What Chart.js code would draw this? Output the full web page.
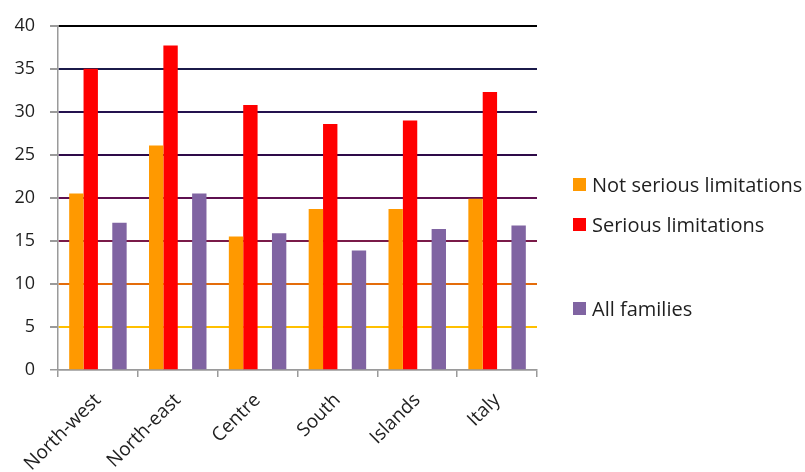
<!DOCTYPE html>
<html>
<head>
<meta charset="utf-8">
<script src="https://cdn.jsdelivr.net/npm/chart.js@4"></script>
<style>
  html, body { margin: 0; padding: 0; background: #fff; }
  #wrap { position: relative; width: 805px; height: 472px; overflow: hidden; }
  #legend { position: absolute; left: 573px; top: 0; font-family: "Open Sans", sans-serif; font-size: 20px; color: #1f1f1f; }
  .item { position: absolute; left: 0; white-space: nowrap; display: flex; align-items: center; }
  .box { width: 13px; height: 13px; margin-right: 6px; }
</style>
</head>
<body>
<div id="wrap">
  <canvas id="c" width="805" height="472"></canvas>
  <div id="legend"></div>
</div>
<script>
const regions = ["North-west", "North-east", "Centre", "South", "Islands", "Italy"];
const notSerious = [20.5, 26.1, 15.5, 18.7, 18.7, 19.9];
const serious = [35.0, 37.7, 30.8, 28.6, 29.0, 32.3];
const allFamilies = [17.1, 20.5, 15.9, 13.9, 16.4, 16.8];
const blankSlot = [null, null, null, null, null, null];
const yTicks = [0, 5, 10, 15, 20, 25, 30, 35, 40];

// One colour per horizontal grid line, warm at the bottom, dark at the top
const gridColours = {
  0: '#9a9a9a', 5: '#ffc000', 10: '#e46c0a', 15: '#7a1a48', 20: '#5e1050',
  25: '#2e0a48', 30: '#24124f', 35: '#1b1a4a', 40: '#000000'
};

const series = [
  { label: 'Not serious limitations', data: notSerious, color: '#ff9900' },
  { label: 'Serious limitations', data: serious, color: '#ff0000' },
  { label: '', data: blankSlot, color: 'rgba(0,0,0,0)' },
  { label: 'All families', data: allFamilies, color: '#8064a2' }
];

const yFont = { family: '"Open Sans", sans-serif', size: 18 };
const xFont = { family: '"Open Sans", sans-serif', size: 19 };

new Chart(document.getElementById('c'), {
  type: 'bar',
  data: {
    labels: regions,
    datasets: series.map(s => ({
      label: s.label,
      data: s.data,
      backgroundColor: s.color,
      borderWidth: 0,
      categoryPercentage: 0.72,
      barPercentage: 1.0
    }))
  },
  options: {
    responsive: false,
    animation: false,
    layout: { padding: { top: 22, right: 268, left: 0, bottom: 0 } },
    plugins: { legend: { display: false }, tooltip: { enabled: false } },
    scales: {
      x: {
        grid: {
          offset: true,
          drawOnChartArea: false,
          tickLength: 7,
          tickColor: '#9a9a9a',
          lineWidth: 1.5
        },
        border: { color: '#9a9a9a', width: 1.5 },
        ticks: {
          font: xFont,
          color: '#1f1f1f',
          maxRotation: 45,
          minRotation: 45,
          padding: 12
        },
        afterFit: s => { s.height = 102; }
      },
      y: {
        min: 0,
        max: 40,
        afterBuildTicks: s => { s.ticks = yTicks.map(v => ({ value: v })); },
        grid: {
          color: ctx => gridColours[ctx.tick.value] || '#999',
          lineWidth: ctx => ctx.tick.value === 0 ? 1.5 : 2,
          tickColor: '#9a9a9a',
          tickLength: 8
        },
        border: { color: '#9a9a9a', width: 1.5 },
        ticks: { font: yFont, color: '#1f1f1f', padding: 15 },
        afterFit: s => { s.width = 58; }
      }
    }
  }
});

// Legend column on the right; the empty third slot keeps its spacing
const legendRows = [184, 224, 266, 308];
const legend = document.getElementById('legend');
series.forEach((s, i) => {
  if (!s.label) return;
  const row = document.createElement('div');
  row.className = 'item';
  row.style.top = (legendRows[i] - 14) + 'px';
  row.style.height = '28px';
  const box = document.createElement('span');
  box.className = 'box';
  box.style.background = s.color;
  const txt = document.createElement('span');
  txt.textContent = s.label;
  row.appendChild(box);
  row.appendChild(txt);
  legend.appendChild(row);
});
</script>
</body>
</html>
